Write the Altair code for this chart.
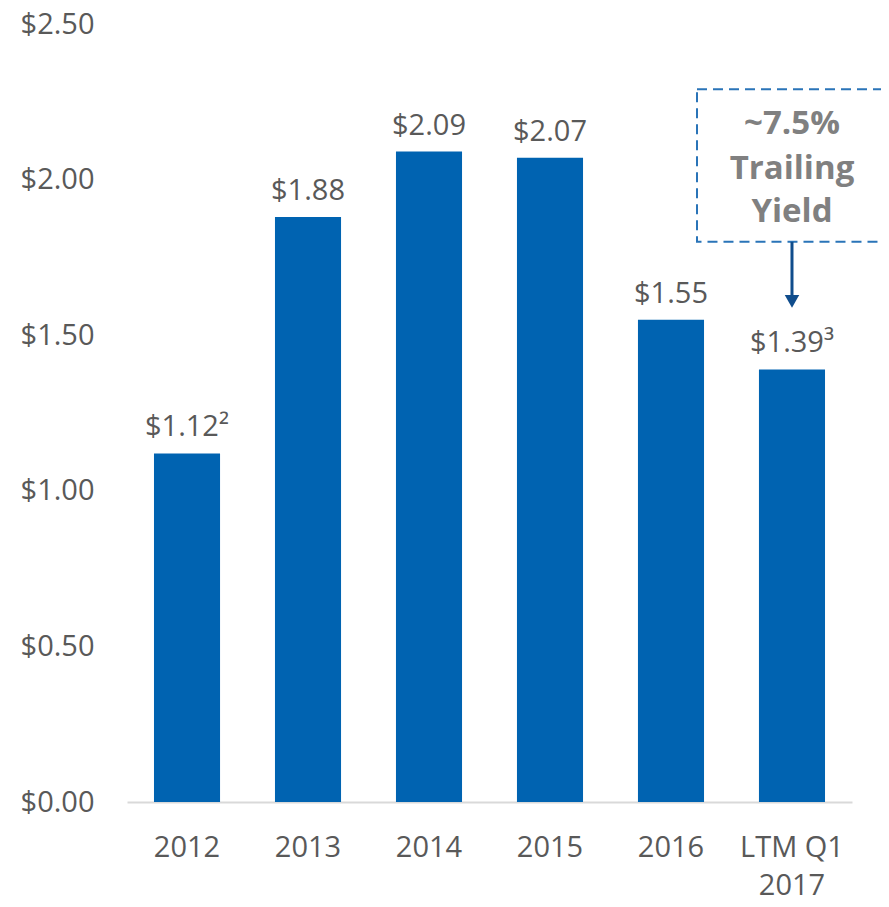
import altair as alt
import pandas as pd

categories = ["2012", "2013", "2014", "2015", "2016", "LTM Q1 2017"]
values = [1.12, 1.88, 2.09, 2.07, 1.55, 1.39]
value_labels = ["$1.12²", "$1.88", "$2.09", "$2.07", "$1.55", "$1.39³"]
annotation_lines = ["~7.5%", "Trailing", "Yield"]
annotation_y = [2.18, 2.035, 1.895]
box_top, box_bottom = 2.29, 1.80
arrow_tip = 1.583

BLUE = "#0063B1"
GRAY = "#595959"
FONT = "Open Sans"
FS = 29

df = pd.DataFrame({"cat": categories, "value": values, "label": value_labels})

xenc = alt.X(
    "cat:N",
    sort=categories,
    scale=alt.Scale(paddingInner=0.454, paddingOuter=0.223),
    axis=alt.Axis(
        title=None,
        labelAngle=0,
        labelFont=FONT,
        labelFontSize=FS,
        labelColor=GRAY,
        labelPadding=31,
        labelLineHeight=38,
        labelExpr="datum.label == 'LTM Q1 2017' ? ['LTM Q1', '2017'] : datum.label",
        ticks=False,
        domainColor="#D9D9D9",
        domainWidth=2,
        grid=False,
    ),
)
yscale = alt.Scale(domain=[0, 2.5], nice=False)
yenc = alt.Y(
    "value:Q",
    scale=yscale,
    axis=alt.Axis(
        title=None,
        values=[0, 0.5, 1.0, 1.5, 2.0, 2.5],
        format="$.2f",
        labelFont=FONT,
        labelFontSize=FS,
        labelColor=GRAY,
        labelPadding=33,
        ticks=False,
        domain=False,
        grid=False,
    ),
)

bars = alt.Chart(df).mark_bar(color=BLUE).encode(x=xenc, y=yenc)
labels = alt.Chart(df).mark_text(
    font=FONT, fontSize=FS, color=GRAY, baseline="bottom", dy=-11
).encode(x=alt.X("cat:N", sort=categories), y="value:Q", text="label:N")

ann_df = pd.DataFrame({"cat": ["LTM Q1 2017"] * 3, "line": annotation_lines, "y": annotation_y})
ann_text = alt.Chart(ann_df).mark_text(
    font=FONT, fontSize=33, fontWeight="bold", color="#808080", baseline="middle"
).encode(x=alt.X("cat:N", sort=categories), y=alt.Y("y:Q", scale=yscale), text="line:N")

box_df = pd.DataFrame({"top": [box_top], "bottom": [box_bottom]})
box = alt.Chart(box_df).mark_rect(
    fill="white", fillOpacity=0, stroke="#2A74B8", strokeWidth=2, strokeDash=[10, 6], clip=False
).encode(
    x=alt.value(570), x2=alt.value(800),
    y=alt.Y("top:Q", scale=yscale), y2="bottom:Q",
)

arrow_df = pd.DataFrame({"cat": ["LTM Q1 2017"], "start": [box_bottom], "end": [arrow_tip + 0.04], "tip": [arrow_tip]})
arrow_line = alt.Chart(arrow_df).mark_rule(color="#104D8C", strokeWidth=3).encode(
    x=alt.X("cat:N", sort=categories), y=alt.Y("start:Q", scale=yscale), y2="end:Q"
)
arrow_head = alt.Chart(arrow_df).mark_point(
    shape="triangle-down", filled=True, color="#104D8C", size=210, opacity=1, yOffset=-8
).encode(x=alt.X("cat:N", sort=categories), y=alt.Y("tip:Q", scale=yscale))

chart = alt.layer(bars, labels, box, ann_text, arrow_line, arrow_head).properties(
    width=725,
    height=778,
    autosize=alt.AutoSizeParams(type="none"),
    padding={"left": 119, "top": 16, "right": 29, "bottom": 97},
).configure_view(stroke=None)

chart.save("out.html", embed_options={"renderer": "svg", "actions": False})
